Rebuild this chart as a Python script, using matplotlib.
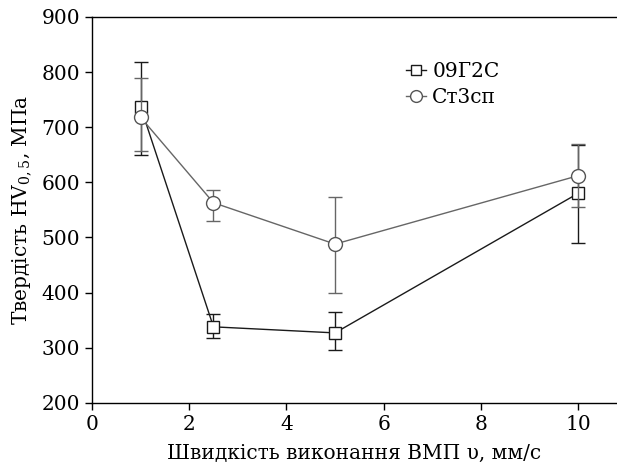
import matplotlib
matplotlib.use("Agg")
import matplotlib.pyplot as plt

plt.rcParams["font.family"] = ["DejaVu Serif"]
plt.rcParams["mathtext.fontset"] = "dejavuserif"

speed = [1, 2.5, 5, 10]

# 09Г2С
hv_09 = [737, 338, 327, 580]
err_09_lo = [87, 20, 31, 90]
err_09_hi = [81, 23, 38, 88]

# Ст3сп
hv_st = [718, 563, 488, 612]
err_st_lo = [61, 33, 88, 57]
err_st_hi = [71, 23, 85, 58]

fig = plt.figure(figsize=(6.17, 4.68), dpi=100)
ax = fig.add_axes([0.149, 0.139, 0.851, 0.825])

ax.errorbar(speed, hv_09, yerr=[err_09_lo, err_09_hi], color="#1a1a1a",
            marker="s", ms=9, mfc="white", mec="#1a1a1a", mew=1.0,
            lw=1.0, capsize=5, elinewidth=1.0, capthick=1.0, label="09Г2С", zorder=2)
ax.errorbar(speed, hv_st, yerr=[err_st_lo, err_st_hi], color="#666666",
            marker="o", ms=10, mfc="white", mec="#555555", mew=1.0,
            lw=1.0, capsize=5, elinewidth=1.0, capthick=1.0, label="Ст3сп", zorder=3)

ax.set_xlim(0, 10.8)
ax.set_ylim(200, 900)
ax.set_xticks([0, 2, 4, 6, 8, 10])
ax.set_yticks(range(200, 901, 100))
ax.spines["right"].set_visible(False)
for s in ["left", "bottom", "top"]:
    ax.spines[s].set_linewidth(1.0)
ax.tick_params(direction="out", length=5, width=1.0, labelsize=14.5, top=False, right=False)

ax.set_xlabel("Швидкість виконання ВМП υ, мм/с", fontsize=14.5, labelpad=7)
ax.set_ylabel("Твердість HV$_{0,5}$, МПа", fontsize=14.5, labelpad=6)

handles, labels = ax.get_legend_handles_labels()
handles = [h[0] for h in handles]
ax.legend(handles, labels, loc="upper left", bbox_to_anchor=(0.583, 0.905),
          frameon=False, fontsize=14.5, handlelength=1.0, handletextpad=0.3,
          labelspacing=0.35, borderaxespad=0, markerscale=0.85)

fig.savefig("out.png", dpi=100)
